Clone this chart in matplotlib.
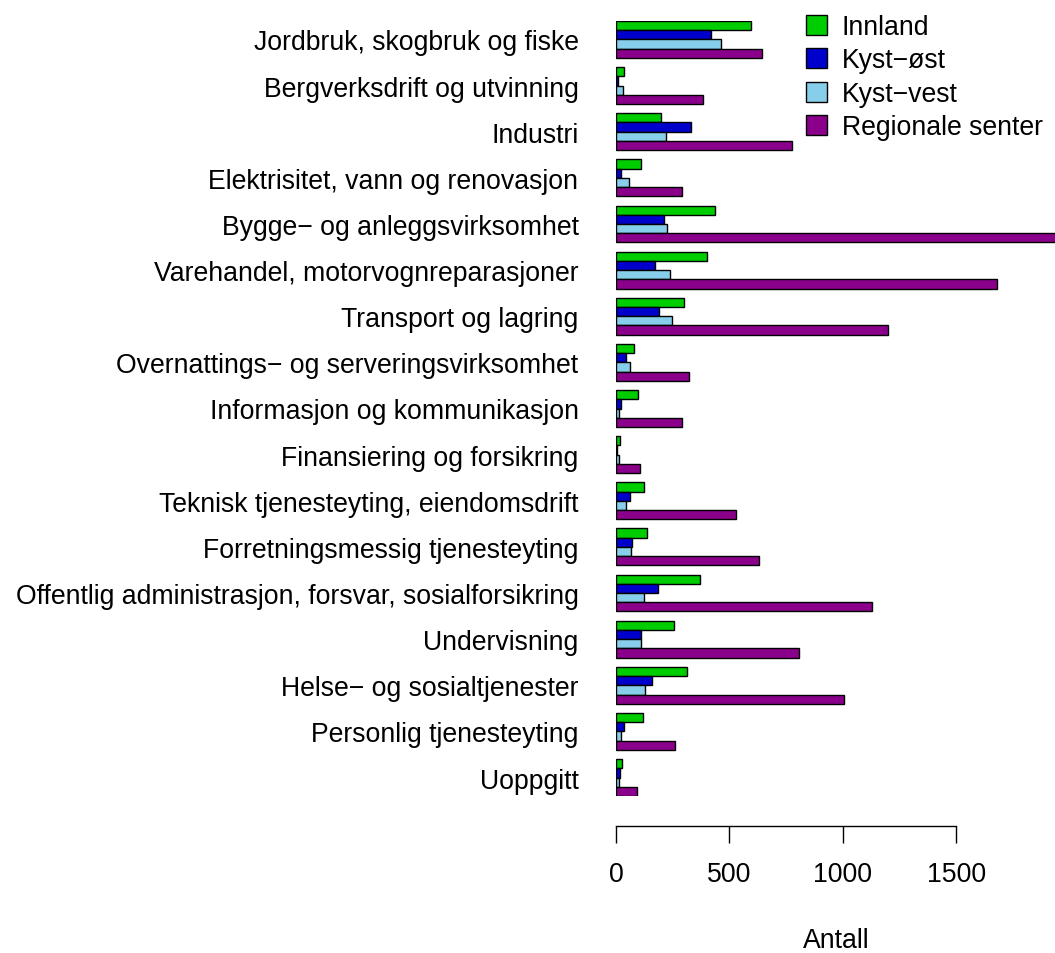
import matplotlib.pyplot as plt
import numpy as np
from matplotlib.patches import Patch

plt.rcParams["font.family"] = ["Liberation Sans", "DejaVu Sans"]

categories = [
    "Jordbruk, skogbruk og fiske",
    "Bergverksdrift og utvinning",
    "Industri",
    "Elektrisitet, vann og renovasjon",
    "Bygge\u2212 og anleggsvirksomhet",
    "Varehandel, motorvognreparasjoner",
    "Transport og lagring",
    "Overnattings\u2212 og serveringsvirksomhet",
    "Informasjon og kommunikasjon",
    "Finansiering og forsikring",
    "Teknisk tjenesteyting, eiendomsdrift",
    "Forretningsmessig tjenesteyting",
    "Offentlig administrasjon, forsvar, sosialforsikring",
    "Undervisning",
    "Helse\u2212 og sosialtjenester",
    "Personlig tjenesteyting",
    "Uoppgitt",
]

innland = [594, 35, 200, 109, 438, 401, 300, 79, 97, 19, 125, 138, 369, 256, 312, 119, 26]
kyst_ost = [417, 8, 329, 24, 210, 173, 190, 43, 22, 6, 62, 72, 184, 109, 160, 35, 19]
kyst_vest = [463, 29, 222, 57, 223, 240, 247, 63, 13, 12, 43, 68, 122, 109, 128, 24, 13]
regionale = [644, 385, 776, 291, 1950, 1680, 1201, 323, 290, 106, 528, 629, 1128, 806, 1007, 260, 91]

series = ["Innland", "Kyst\u2212øst", "Kyst\u2212vest", "Regionale senter"]
colors = ["#00CD00", "#0000CD", "#87CEEB", "#8B008B"]
xticks = [0, 500, 1000, 1500]

FS = 19.2
W, H = 1055, 954
fig = plt.figure(figsize=(W / 100, H / 100), dpi=100)
ax = fig.add_axes([616 / W, 1 - 797 / H, (W - 616) / W, (797 - 22) / H])

n = len(categories)
group_top = np.arange(n) * 5
for k, (vals, col) in enumerate(zip([innland, kyst_ost, kyst_vest, regionale], colors)):
    ax.barh(group_top + k + 0.5, vals, height=1.0, color=col,
            edgecolor="black", linewidth=1.0)

ax.set_xlim(0, 1936)
ax.set_ylim(n * 5 - 1, 0)

for s in ["top", "right", "left"]:
    ax.spines[s].set_visible(False)
ax.spines["bottom"].set_bounds(0, 1500)
ax.spines["bottom"].set_position(("outward", 21.5))
ax.spines["bottom"].set_linewidth(1.0)

ax.set_yticks(group_top + 2)
ax.set_yticklabels(categories)
ax.tick_params(axis="y", length=0, pad=27, labelsize=FS)

ax.set_xticks(xticks)
ax.set_xticklabels([str(t) for t in xticks])
ax.tick_params(axis="x", length=12, width=1.0, pad=13, direction="out", labelsize=FS)

ax.set_xlabel("Antall", fontsize=FS)
ax.xaxis.label.set_verticalalignment("center")
ax.xaxis.set_label_coords((836 - 616) / (W - 616), -(941 - 797) / (797 - 22))

handles = [Patch(facecolor=c, edgecolor="black", linewidth=1.0) for c in colors]
fig.legend(handles, series, loc="upper left", frameon=False, fontsize=FS,
           bbox_to_anchor=(806 / W, 1 - 15 / H), borderaxespad=0, borderpad=0,
           handlelength=0.77, handleheight=0.77, handletextpad=0.57,
           labelspacing=0.28)

fig.savefig("out.png", dpi=100)
